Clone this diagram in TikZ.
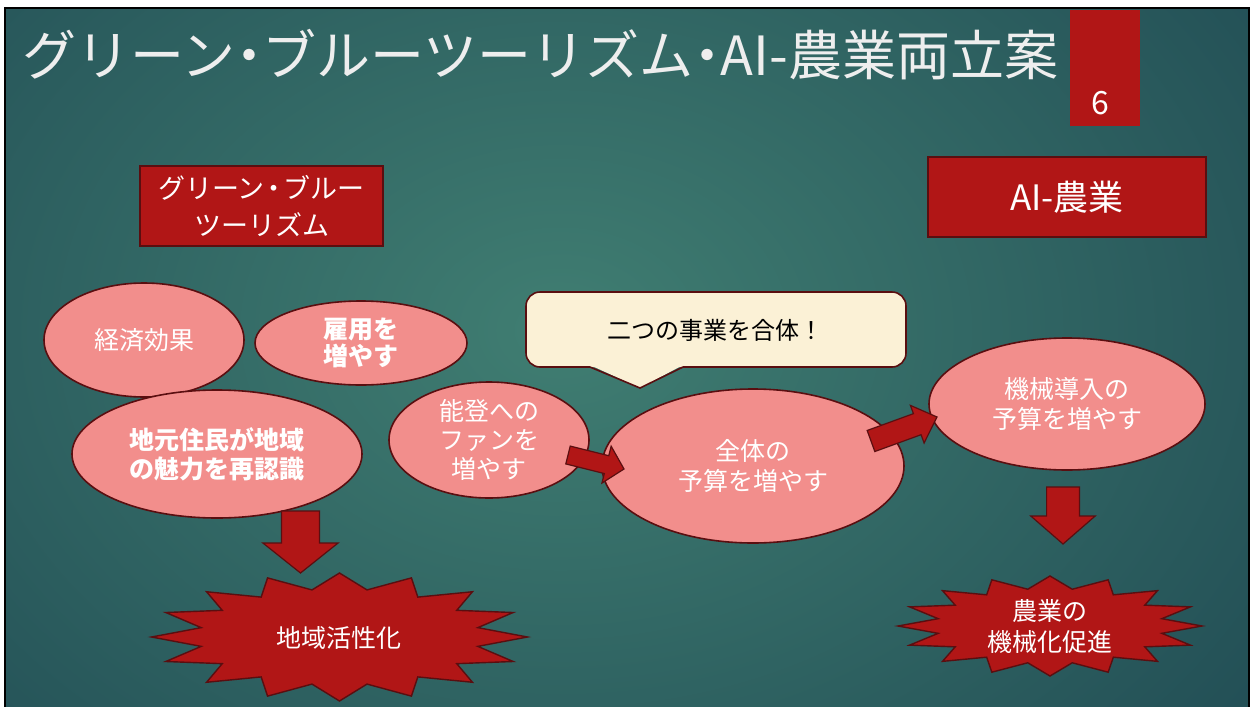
\documentclass[tikz,border=0pt]{standalone}
\usepackage{fontspec}
\setmainfont{Noto Sans CJK JP}
\usetikzlibrary{calc,shapes.geometric}
\definecolor{bgin}{HTML}{407E72}
\definecolor{bgout}{HTML}{143848}
\definecolor{pinkfill}{HTML}{F28E8C}
\definecolor{darkline}{HTML}{5A0E10}
\definecolor{redfill}{HTML}{B11616}
\definecolor{creamfill}{HTML}{FBF1D6}
\definecolor{titlecol}{HTML}{EEEEEE}
\newcommand\tdot[1]{\hspace{-#1em}・\hspace{-#1em}}
\tikzset{
  bubble/.style={ellipse, draw=darkline, line width=0.8pt, fill=pinkfill, text=white,
    inner sep=0pt, align=center, font=\fontsize{12.5}{14.75}\selectfont},
  redbox/.style={rectangle, draw=darkline, line width=0.8pt, fill=redfill, text=white,
    inner sep=0pt, align=center},
  barrow/.style={draw=darkline, fill=redfill, line width=0.6pt, line join=miter},
  burst/.style={draw=darkline, fill=redfill, line width=0.7pt, line join=miter},
  bursttext/.style={text=white, align=center, font=\fontsize{12.5}{15.5}\selectfont},
}
% #1 start, #2 end, #3 half shaft, #4 half head, #5 head length
\newcommand\blockarrow[5]{%
  \path[barrow] let \p1=($(#2)-(#1)$), \n1={atan2(\y1,\x1)}, \n2={veclen(\x1,\y1)} in
    ([shift={(#1)},rotate=\n1]0pt,#3)
    -- ([shift={(#1)},rotate=\n1]{\n2*1pt-#5},#3)
    -- ([shift={(#1)},rotate=\n1]{\n2*1pt-#5},#4)
    -- ([shift={(#1)},rotate=\n1]{\n2*1pt},0pt)
    -- ([shift={(#1)},rotate=\n1]{\n2*1pt-#5},-#4)
    -- ([shift={(#1)},rotate=\n1]{\n2*1pt-#5},-#3)
    -- ([shift={(#1)},rotate=\n1]0pt,-#3) -- cycle;}
\begin{document}
\begin{tikzpicture}[x=0.5pt,y=-0.5pt]
\useasboundingbox (0,0) rectangle (1254,707);
\fill[white] (0,0) rectangle (1254,707);
\begin{scope}
  \clip (5,8) rectangle (1249,707);
  \fill[bgout] (5,8) rectangle (1249,707);
  \shade[inner color=bgin, outer color=bgout] (560,330) ellipse [x radius=640pt, y radius=480pt];
\end{scope}
\draw[black, line width=1.3pt] (5,720) -- (5,8) -- (1249,8) -- (1249,720);

% title and page number
\node[anchor=west, inner sep=0pt, text=titlecol, font=\fontsize{27}{32}\selectfont] (title) at (22,55)
  {グリーン\tdot{0.25}ブルーツーリズム\tdot{0.25}AI-農業両立案};
\node[rectangle, fill=redfill, minimum width=35pt, minimum height=58pt, inner sep=0pt] (numbox) at (1105,68) {};
\node[text=white, inner sep=0pt, font=\fontsize{16}{18}\selectfont] (num) at (1100,103) {6};

% headings
\node[redbox, minimum width=121.5pt, minimum height=40pt, font=\fontsize{13.5}{18.5}\selectfont] (gbbox) at (261.5,206)
  {グリーン\tdot{0.15}ブルー\\ツーリズム};
\node[redbox, minimum width=139pt, minimum height=40pt, font=\fontsize{17.5}{20}\selectfont] (aibox) at (1067,197) {AI-農業};

% bubbles
\node[bubble, minimum width=100pt, minimum height=57pt] (keizai) at (144,340) {経済効果};
\node[bubble, minimum width=106pt, minimum height=42pt, font=\bfseries\fontsize{12.5}{13.5}\selectfont] (koyou) at (361,343) {雇用を\\増やす};
\node[bubble, minimum width=145pt, minimum height=64pt, font=\bfseries\fontsize{12.5}{14.5}\selectfont] (jimoto) at (217,454) {地元住民が地域\\の魅力を再認識};
\node[bubble, minimum width=100pt, minimum height=58pt, font=\fontsize{12.5}{14.5}\selectfont] (noto) at (489,440) {能登への\\ファンを\\増やす};
\node[bubble, minimum width=151pt, minimum height=77pt] (zentai) at (753,466) {全体の\\予算を増やす};
\node[bubble, minimum width=138pt, minimum height=66pt] (kikai) at (1067,404) {機械導入の\\予算を増やす};

% callout
\fill[creamfill, rounded corners=7pt] (526,292) rectangle (906,367);
\fill[creamfill] (590,365) -- (640,388) -- (683,365) -- cycle;
\draw[darkline, line width=0.8pt, rounded corners=7pt] (590,367) -- (526,367) -- (526,292) -- (906,292) -- (906,367) -- (683,367);
\draw[darkline, line width=0.8pt, line join=miter] (683,367) -- (640,388) -- (590,367);
\node[text=black, font=\fontsize{12}{14}\selectfont] (gattai) at (715,330) {二つの事業を合体！};

% block arrows
\coordinate (a1s) at (568,455);
\coordinate (a1e) at (624,469);
\coordinate (a2s) at (871,441);
\coordinate (a2e) at (937,417);
\coordinate (a3s) at (300.5,511);
\coordinate (a3e) at (300.5,573);
\coordinate (a4s) at (1063,487);
\coordinate (a4e) at (1063,544);
\blockarrow{a1s}{a1e}{4.6pt}{9.5pt}{9pt}
\blockarrow{a2s}{a2e}{5.6pt}{10pt}{10.5pt}
\blockarrow{a3s}{a3e}{9.5pt}{18.8pt}{15pt}
\blockarrow{a4s}{a4e}{8.2pt}{16.1pt}{14pt}

% starbursts
\draw[burst] plot[samples at={0,1,...,31}, variable=\k]
  ({339.5+188*(1-0.25*mod(\k,2))*cos(\k*11.25)}, {637+64*(1-0.25*mod(\k,2))*sin(\k*11.25)}) -- cycle;
\node[bursttext] (kasseika) at (339,638) {地域活性化};
\draw[burst] plot[samples at={0,1,...,31}, variable=\k]
  ({1050+152*(1-0.25*mod(\k,2))*cos(\k*11.25)}, {626+50*(1-0.25*mod(\k,2))*sin(\k*11.25)}) -- cycle;
\node[bursttext] (sokushin) at (1050,627) {農業の\\機械化促進};
\end{tikzpicture}
\end{document}
